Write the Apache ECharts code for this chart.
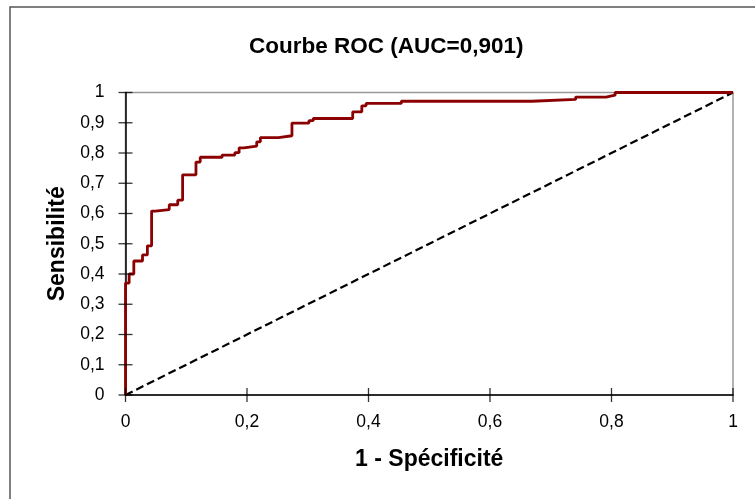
<!DOCTYPE html>
<html>
<head>
<meta charset="utf-8">
<script src="https://cdn.jsdelivr.net/npm/echarts@6/dist/echarts.min.js"></script>
<style>
html,body{margin:0;padding:0;background:#fff;}
#c{width:755px;height:499px;}
</style>
</head>
<body>
<div id="c"></div>
<script>
// ROC curve points (1 - specificity, sensitivity)
const fpr = [0, 0, 0.006, 0.0137, 0.028, 0.036, 0.043, 0.049, 0.072, 0.086, 0.094, 0.116, 0.123, 0.159, 0.180, 0.187, 0.195, 0.216, 0.222, 0.252, 0.274, 0.302, 0.309, 0.374, 0.389, 0.396, 0.454, 0.669, 0.741, 0.791, 0.806, 1];
const tpr = [0, 0.370, 0.400, 0.443, 0.463, 0.493, 0.608, 0.613, 0.629, 0.644, 0.728, 0.770, 0.786, 0.793, 0.801, 0.817, 0.823, 0.837, 0.851, 0.857, 0.899, 0.907, 0.914, 0.936, 0.956, 0.964, 0.971, 0.977, 0.985, 0.991, 1.0, 1.0];
const diagX = [0, 1];
const diagY = [0, 1];
const xTicks = [0, 0.2, 0.4, 0.6, 0.8, 1];
const yTicks = [0, 0.1, 0.2, 0.3, 0.4, 0.5, 0.6, 0.7, 0.8, 0.9, 1];
const titleText = 'Courbe ROC (AUC=0,901)';
const xName = '1 - Spécificité';
const yName = 'Sensibilité';

const fmt = v => String(+(+v).toFixed(1)).replace('.', ',');
const rocData = fpr.map((x, i) => [x, tpr[i]]);
const diagData = diagX.map((x, i) => [x, diagY[i]]);
const xTickData = xTicks.map(v => [v, 0]);
const yTickData = yTicks.map(v => [0, v]);

const chart = echarts.init(document.getElementById('c'), null, {renderer: 'canvas'});
const font = 'Liberation Sans, Arial, sans-serif';
chart.setOption({
  animation: false,
  backgroundColor: '#fff',
  textStyle: {fontFamily: font},
  title: {
    text: titleText, left: 249, top: 35, padding: 0,
    textStyle: {fontFamily: font, fontWeight: 'bold', fontSize: 22.5, color: '#000'}
  },
  graphic: [{
    type: 'rect', silent: true, z: -1,
    shape: {x: 10, y: 7, width: 800, height: 600},
    style: {fill: 'none', stroke: '#555', lineWidth: 1.5}
  }],
  grid: {
    left: 125.5, right: 22, top: 92.5, bottom: 104,
    show: true, borderColor: '#999', borderWidth: 1.5, backgroundColor: 'transparent'
  },
  xAxis: {
    type: 'value', min: 0, max: 1, interval: 0.2,
    splitLine: {show: false},
    name: xName, nameLocation: 'middle', nameGap: 53,
    nameTextStyle: {fontFamily: font, fontWeight: 'bold', fontSize: 23, color: '#000'},
    axisLine: {show: true, onZero: false, lineStyle: {color: '#000', width: 1.5}},
    axisTick: {show: false},
    axisLabel: {formatter: fmt, margin: 18, fontSize: 17.5, color: '#000', fontFamily: font}
  },
  yAxis: {
    type: 'value', min: 0, max: 1, interval: 0.1,
    splitLine: {show: false},
    name: yName, nameLocation: 'middle', nameGap: 56,
    nameTextStyle: {fontFamily: font, fontWeight: 'bold', fontSize: 23, color: '#000'},
    axisLine: {show: true, onZero: false, lineStyle: {color: '#000', width: 1.5}},
    axisTick: {show: false},
    axisLabel: {formatter: fmt, margin: 21, fontSize: 17.5, color: '#000', fontFamily: font}
  },
  series: [
    {
      type: 'line', data: diagData, showSymbol: false, symbol: 'none', z: 2,
      lineStyle: {color: '#000', width: 2.2, type: [8, 4]}
    },
    {
      type: 'line', data: rocData, step: 'end', showSymbol: false, symbol: 'none', z: 3,
      lineStyle: {color: '#8B0000', width: 2.8}
    },
    {
      type: 'scatter', data: xTickData, symbol: 'rect', symbolSize: [1.3, 14],
      itemStyle: {color: '#000'}, clip: false, silent: true, z: 4
    },
    {
      type: 'scatter', data: yTickData, symbol: 'rect', symbolSize: [14, 1.3],
      itemStyle: {color: '#000'}, clip: false, silent: true, z: 4
    }
  ]
});
</script>
</body>
</html>
